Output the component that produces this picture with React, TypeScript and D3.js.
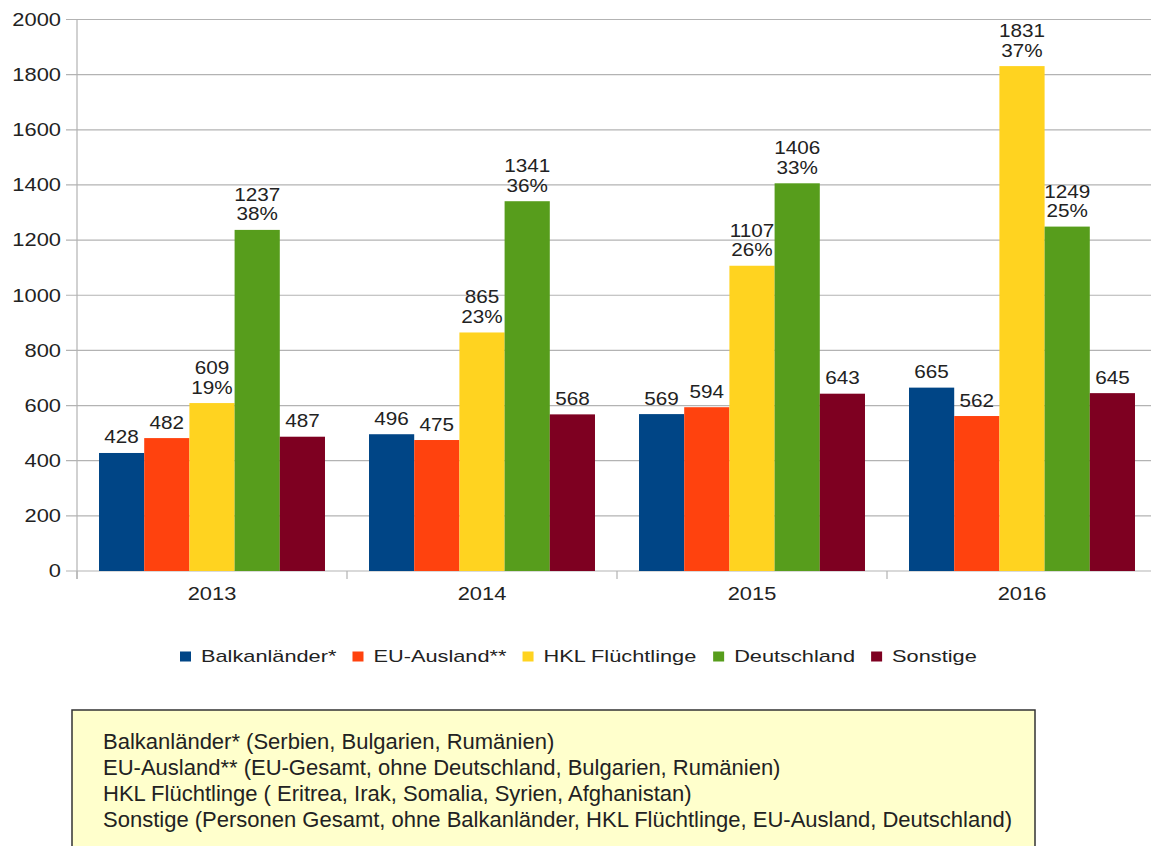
import React from "react";
import * as d3 from "d3";

const years = ["2013", "2014", "2015", "2016"];
const seriesNames = ["Balkanländer*", "EU-Ausland**", "HKL Flüchtlinge", "Deutschland", "Sonstige"];
const seriesColors = ["#004586", "#ff420e", "#ffd320", "#579d1c", "#7e0021"];
const balkan = [428, 496, 569, 665];
const euAusland = [482, 475, 594, 562];
const hkl = [609, 865, 1107, 1831];
const deutschland = [1237, 1341, 1406, 1249];
const sonstige = [487, 568, 643, 645];
const hklPct = ["19%", "23%", "26%", "37%"];
const deutschlandPct = ["38%", "36%", "33%", "25%"];
const yTicks = [0, 200, 400, 600, 800, 1000, 1200, 1400, 1600, 1800, 2000];
const noteLines = [
  "Balkanländer* (Serbien, Bulgarien, Rumänien)",
  "EU-Ausland** (EU-Gesamt, ohne Deutschland, Bulgarien, Rumänien)",
  "HKL Flüchtlinge ( Eritrea, Irak, Somalia, Syrien, Afghanistan)",
  "Sonstige (Personen Gesamt, ohne Balkanländer, HKL Flüchtlinge, EU-Ausland, Deutschland)",
];

const FONT = "'Liberation Sans', Arial, sans-serif";
const W = 1151;
const H = 846;

let ctx: CanvasRenderingContext2D | null = null;
function measure(text: string, size: number): number {
  if (!ctx) {
    const c = document.createElement("canvas");
    ctx = c.getContext("2d");
  }
  if (!ctx) return text.length * size * 0.55;
  ctx.font = `${size}px 'Liberation Sans', Arial, sans-serif`;
  return ctx.measureText(text).width;
}

function SText(props: {
  x: number;
  y: number;
  sx: number;
  size: number;
  anchor?: string;
  fill?: string;
  children: React.ReactNode;
}) {
  const { x, y, sx, size, anchor = "middle", fill = "#222", children } = props;
  return (
    <text
      transform={`translate(${x},${y}) scale(${sx},1)`}
      fontFamily={FONT}
      fontSize={size}
      textAnchor={anchor}
      fill={fill}
    >
      {children}
    </text>
  );
}

export default function App() {
  const seriesValues = [balkan, euAusland, hkl, deutschland, sonstige];
  const pctLabels: (string[] | null)[] = [null, null, hklPct, deutschlandPct, null];

  const left = 77;
  const right = 1157;
  const top = 19.5;
  const bottom = 571;

  const y = d3.scaleLinear().domain([0, 2000]).range([bottom, top]);
  const x0 = d3.scaleBand<string>().domain(years).range([left, right]).padding(0);
  const x1 = d3
    .scaleBand<string>()
    .domain(seriesNames)
    .range([0, x0.bandwidth()])
    .paddingInner(0)
    .paddingOuter(0.487);

  const tickSX = 1.25;
  const tickSize = 17.5;
  const valSX = 1.15;
  const valSize = 18;

  // legend layout
  const legSize = 17;
  const legSX = 1.28;
  let lx = 180;
  const legendItems = seriesNames.map((name, i) => {
    const item = { name, color: seriesColors[i], x: lx };
    lx += 11 + 10 + measure(name, legSize) * legSX + 16;
    return item;
  });

  const boundaries = [...years.map((yr) => x0(yr) as number), right];

  return (
    <svg
      width={W}
      height={H}
      style={{ position: "absolute", left: 0, top: 0, background: "#fff" }}
    >
      <rect x={0} y={0} width={W} height={H} fill="#fff" />
      {/* gridlines */}
      {yTicks.map((t) => (
        <line
          key={"g" + t}
          x1={left - 11}
          x2={right}
          y1={y(t)}
          y2={y(t)}
          stroke="#b3b3b3"
          strokeWidth={1.2}
        />
      ))}
      {/* y axis line */}
      <line x1={left} x2={left} y1={top} y2={bottom + 8} stroke="#b3b3b3" strokeWidth={1.2} />
      {/* x ticks */}
      {boundaries.map((b, i) => (
        <line key={"xt" + i} x1={b} x2={b} y1={bottom} y2={bottom + 8} stroke="#b3b3b3" strokeWidth={1.2} />
      ))}
      {/* y tick labels */}
      {yTicks.map((t) => (
        <SText key={"yl" + t} x={left - 16} y={y(t) + 6.3} sx={tickSX} size={tickSize} anchor="end">
          {String(t)}
        </SText>
      ))}
      {/* x labels */}
      {years.map((yr) => (
        <SText
          key={"xl" + yr}
          x={(x0(yr) as number) + x0.bandwidth() / 2}
          y={600}
          sx={tickSX}
          size={tickSize}
        >
          {yr}
        </SText>
      ))}
      {/* bars */}
      {years.map((yr, yi) => (
        <g key={"grp" + yr} transform={`translate(${x0(yr)},0)`}>
          {seriesNames.map((s, si) => {
            const v = seriesValues[si][yi];
            const bx = x1(s) as number;
            const bw = x1.bandwidth();
            return (
              <rect
                key={s}
                x={bx}
                y={y(v)}
                width={bw}
                height={bottom - y(v)}
                fill={seriesColors[si]}
              />
            );
          })}
          {seriesNames.map((s, si) => {
            const v = seriesValues[si][yi];
            const cx = (x1(s) as number) + x1.bandwidth() / 2;
            const pct = pctLabels[si];
            if (pct) {
              return (
                <g key={"lbl" + s}>
                  <SText x={cx} y={y(v) - 29} sx={valSX} size={valSize}>
                    {String(v)}
                  </SText>
                  <SText x={cx} y={y(v) - 9.5} sx={valSX} size={valSize}>
                    {pct[yi]}
                  </SText>
                </g>
              );
            }
            return (
              <SText key={"lbl" + s} x={cx} y={y(v) - 9.5} sx={valSX} size={valSize}>
                {String(v)}
              </SText>
            );
          })}
        </g>
      ))}
      {/* legend */}
      {legendItems.map((it) => (
        <g key={"leg" + it.name}>
          <rect x={it.x} y={651.5} width={11} height={10} fill={it.color} />
          <SText x={it.x + 21} y={662} sx={legSX} size={legSize} anchor="start">
            {it.name}
          </SText>
        </g>
      ))}
      {/* note box */}
      <rect x={72} y={710} width={963} height={160} fill="#ffffcc" stroke="#333" strokeWidth={1.5} />
      {noteLines.map((line, i) => (
        <text
          key={"note" + i}
          x={103}
          y={749 + i * 26}
          fontFamily={FONT}
          fontSize={22}
          fill="#222"
        >
          {line}
        </text>
      ))}
    </svg>
  );
}
